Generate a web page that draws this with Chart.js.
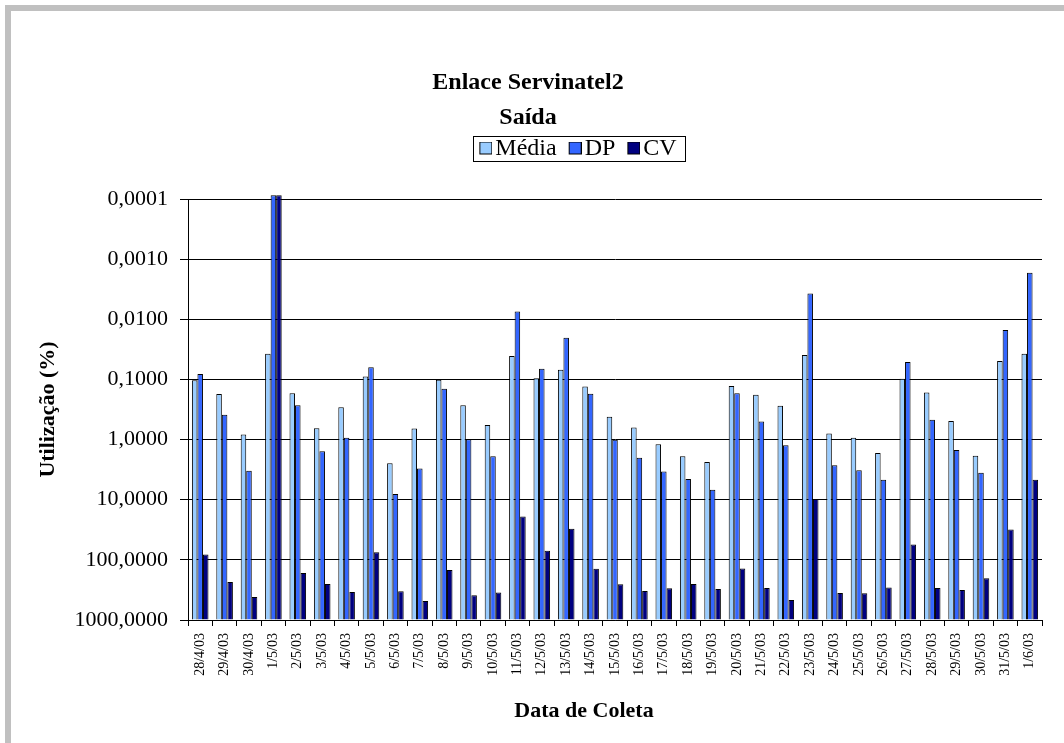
<!DOCTYPE html>
<html><head><meta charset="utf-8">
<script src="https://cdn.jsdelivr.net/npm/chart.js@4/dist/chart.umd.min.js"></script>
<style>html,body{margin:0;padding:0;background:#fff;overflow:hidden}canvas{display:block}</style>
</head><body>
<canvas id="c" width="1064" height="743"></canvas>
<script>
const categories = ['28/4/03','29/4/03','30/4/03','1/5/03','2/5/03','3/5/03','4/5/03','5/5/03','6/5/03','7/5/03','8/5/03','9/5/03','10/5/03','11/5/03','12/5/03','13/5/03','14/5/03','15/5/03','16/5/03','17/5/03','18/5/03','19/5/03','20/5/03','21/5/03','22/5/03','23/5/03','24/5/03','25/5/03','26/5/03','27/5/03','28/5/03','29/5/03','30/5/03','31/5/03','1/6/03'];
const media = [0.103, 0.175, 0.826, 0.0373, 0.169, 0.647, 0.289, 0.089, 2.48, 0.656, 0.101, 0.268, 0.570, 0.0408, 0.096, 0.069, 0.131, 0.419, 0.631, 1.20, 1.90, 2.36, 0.129, 0.180, 0.275, 0.0393, 0.794, 0.937, 1.67, 0.0975, 0.165, 0.489, 1.85, 0.0494, 0.0373];
const dp = [0.0815, 0.388, 3.29, 0.000087, 0.268, 1.56, 0.937, 0.063, 8.05, 3.04, 0.143, 0.986, 1.90, 0.00745, 0.0664, 0.0202, 0.173, 1.01, 2.0, 3.41, 4.53, 6.81, 0.169, 0.501, 1.24, 0.00373, 2.68, 3.24, 4.64, 0.0514, 0.470, 1.49, 3.55, 0.0151, 0.00169];
const cv = [81.5, 233, 414, 0.000087, 165, 251, 341, 74.5, 333, 482, 147, 388, 350, 19.0, 70.8, 30.4, 141, 255, 329, 297, 251, 304, 139, 293, 464, 9.75, 355, 359, 289, 55.5, 293, 316, 202, 31.2, 4.64];
const yTicks = [0.0001, 0.001, 0.01, 0.1, 1, 10, 100, 1000];
const seriesNames = ['Média', 'DP', 'CV'];
const seriesColors = ['#99CCFF', '#3366FF', '#000080'];

const FONT = "'Liberation Serif', 'Times New Roman', serif";
const BASE = 1000;
const LEGEND_FONT = 24;

// legend swatch images: square placed at the right side so it sits close to its text
const legendImgs = seriesColors.map(col => {
  const cnv = document.createElement('canvas');
  cnv.width = 22; cnv.height = 14;
  const c = cnv.getContext('2d');
  c.fillStyle = col;
  c.fillRect(9.5, 0.5, 12, 12);
  c.strokeStyle = '#000';
  c.lineWidth = 1;
  c.strokeRect(9.5, 0.5, 12, 12);
  return cnv;
});

const framePlugin = {
  id: 'frame',
  beforeDraw(chart) {
    const ctx = chart.ctx;
    ctx.save();
    ctx.fillStyle = '#ffffff';
    ctx.fillRect(0, 0, chart.width, chart.height);
    ctx.fillStyle = '#c0c0c0';
    ctx.fillRect(5, 5, chart.width - 5, 6);
    ctx.fillRect(5, 5, 6, chart.height - 5);
    ctx.restore();
  },
  afterLayout(chart) {
    const lg = chart.legend;
    if (lg) {
      const p = lg.options.labels.padding;
      const dx = 578 - (lg.left + lg.right) / 2;
      const dy = 148.5 - (lg.top + p + LEGEND_FONT / 2);
      lg.left += dx; lg.right += dx; lg.top += dy; lg.bottom += dy;
    }
    const sx = chart.scales.x;
    if (sx && !sx._titleShifted) {
      const orig = sx.drawTitle.bind(sx);
      sx.drawTitle = function (area) {
        const c = this.ctx;
        c.save();
        c.translate(-31, 0);
        orig(area);
        c.restore();
      };
      sx._titleShifted = true;
    }
  },
  afterDraw(chart) {
    const lg = chart.legend;
    if (!lg || !lg.legendHitBoxes || !lg.legendHitBoxes.length) return;
    const hb = lg.legendHitBoxes;
    let l = Infinity, r = -Infinity, t = Infinity;
    hb.forEach(h => { l = Math.min(l, h.left); r = Math.max(r, h.left + h.width); t = Math.min(t, h.top); });
    const ctx = chart.ctx;
    ctx.save();
    ctx.strokeStyle = '#000';
    ctx.lineWidth = 1;
    const cy = t + LEGEND_FONT / 2;
    const x0 = Math.round(l - 6) + 0.5, x1 = Math.round(r + 8) + 0.5;
    const y0 = Math.round(cy - 12.5) + 0.5, y1 = Math.round(cy + 12.5) + 0.5;
    ctx.strokeRect(x0, y0, x1 - x0, y1 - y0);
    ctx.restore();
  }
};

const datasets = [media, dp, cv].map((arr, i) => ({
  label: seriesNames[i],
  data: arr,
  base: BASE,
  backgroundColor: seriesColors[i],
  borderColor: '#000000',
  borderWidth: 1,
  borderSkipped: 'start',
  categoryPercentage: 0.68,
  barPercentage: 1.0,
  clip: 5
}));

new Chart(document.getElementById('c'), {
  type: 'bar',
  data: { labels: categories, datasets },
  plugins: [framePlugin],
  options: {
    responsive: false,
    animation: false,
    devicePixelRatio: 1,
    layout: { padding: { left: 14, right: 22, top: 50, bottom: 10 } },
    plugins: {
      tooltip: { enabled: false },
      title: {
        display: true,
        text: ['Enlace Servinatel2', 'Saída'],
        color: '#000',
        font: { family: FONT, size: 24, weight: 'bold', lineHeight: 1.4375 },
        padding: { top: 16, bottom: 0 }
      },
      subtitle: {
        display: true,
        text: '',
        weight: 100,
        font: { family: FONT, size: 1, lineHeight: 1 },
        padding: { top: 17, bottom: 0 }
      },
      legend: {
        display: true,
        position: 'top',
        labels: {
          color: '#000',
          font: { family: FONT, size: LEGEND_FONT },
          usePointStyle: true,
          boxWidth: 4,
          boxHeight: 13,
          padding: 12,
          generateLabels(chart) {
            return Chart.defaults.plugins.legend.labels.generateLabels(chart)
              .map((it, i) => Object.assign(it, { pointStyle: legendImgs[i] }));
          }
        }
      }
    },
    scales: {
      x: {
        type: 'category',
        offset: true,
        grid: { offset: true, drawOnChartArea: false, drawTicks: true, tickLength: 6, color: '#000', lineWidth: 1 },
        border: { color: '#000', width: 1 },
        ticks: { autoSkip: false, minRotation: 90, maxRotation: 90, color: '#000', font: { family: FONT, size: 14 }, padding: 7 },
        title: { display: true, text: 'Data de Coleta', color: '#000', font: { family: FONT, size: 22, weight: 'bold', lineHeight: 1.2 }, padding: { top: 4, bottom: 8 } },
        afterFit(scale) { scale.height = 743 - 620 - 10; }
      },
      y: {
        type: 'logarithmic',
        reverse: true,
        min: 0.0001,
        max: 1000,
        afterBuildTicks(scale) { scale.ticks = yTicks.map(v => ({ value: v, major: false })); },
        grid: { color: '#000', lineWidth: 1, tickLength: 8, drawTicks: true },
        border: { color: '#000', width: 1 },
        ticks: {
          color: '#000',
          font: { family: FONT, size: 22 },
          padding: 12,
          autoSkip: false,
          callback: (v) => Number(v).toFixed(4).replace('.', ',')
        },
        title: { display: true, text: 'Utilização (%)', color: '#000', font: { family: FONT, size: 22, weight: 'bold', lineHeight: 1.2 }, padding: { top: 21, bottom: 0 } },
        afterFit(scale) { scale.width = 188 - 14; }
      }
    }
  }
});
</script>
</body></html>
